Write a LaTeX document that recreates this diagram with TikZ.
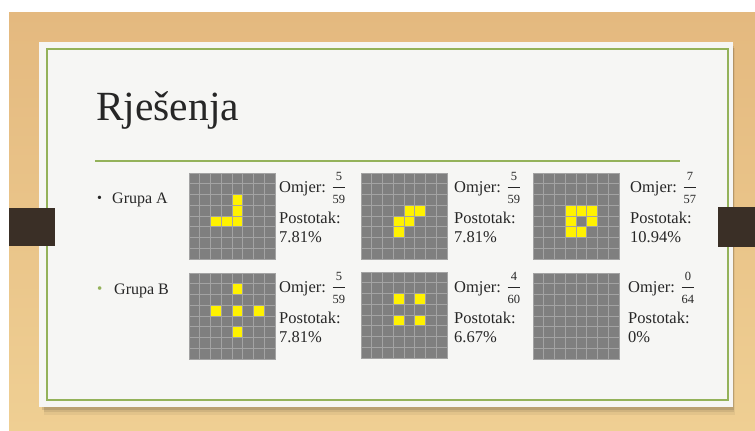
\documentclass[tikz,border=0pt]{standalone}
\usepackage{fontspec}
\setmainfont{Liberation Serif}
\definecolor{woodA}{HTML}{E4B97F}
\definecolor{woodB}{HTML}{EFCF93}
\definecolor{cardC}{HTML}{F6F6F4}
\definecolor{frameG}{HTML}{94B25A}
\definecolor{tabC}{HTML}{3A2F26}
\definecolor{cellG}{HTML}{7F7F7F}
\definecolor{lineG}{HTML}{A3A3A3}
\definecolor{txt}{HTML}{262626}
\tikzset{
  gridbox/.style={draw=lineG, line width=0.6pt, fill=cellG, minimum size=86pt, inner sep=0pt, outer sep=0pt},
  gridline/.style={draw=lineG, line width=0.6pt},
  lifecell/.style={fill=yellow},
  bodytext/.style={anchor=base west, inner sep=0pt, text=txt, font=\fontsize{16.5}{18}\selectfont},
}
\newcommand\frdig[1]{\hbox{\fontsize{12.5}{13}\selectfont #1}}
\newcommand\fr[2]{$\displaystyle{\frdig{#1}\over\frdig{#2}}$}
\newcommand\lifebox[2]{\node[gridbox] (#1) at (#2) {};}
\newcommand\lifecells[2]{%
  \begin{scope}[shift={(#1.north west)}]
    \foreach \c/\r in {#2} \fill[lifecell] (\c*10.75,\r*10.75) rectangle ++(10.75,10.75);
  \end{scope}}
\newcommand\lifelines[1]{%
  \begin{scope}[shift={(#1.north west)}]
    \foreach \i in {1,...,7} {
      \draw[gridline] (\i*10.75,0) -- (\i*10.75,86);
      \draw[gridline] (0,\i*10.75) -- (86,\i*10.75);
    }
  \end{scope}}
\begin{document}
\begin{tikzpicture}[x=1pt,y=-1pt]
\useasboundingbox (0,0) rectangle (755,431);
% background
\fill[white] (0,0) rectangle (755,431);
\shade[top color=woodA, bottom color=woodB] (9,12) rectangle (755,431);
% card shadow
\fill[black, opacity=0.05] (44,48) rectangle (735,415);
\fill[black, opacity=0.08] (44,48) rectangle (734,412);
\fill[black, opacity=0.10] (42,46) rectangle (733.5,409.5);
% card
\fill[cardC] (39,42) rectangle (733,407);
\draw[frameG, line width=1.2pt] (47,49) rectangle (728,400);
% tabs
\fill[tabC] (9,208) rectangle (55,246);
\fill[tabC] (718,207) rectangle (755,247);
% title
\node[anchor=base west, inner sep=0pt, text=txt, font=\fontsize{41.5}{44}\selectfont] (title) at (96,120) {Rješenja};
\coordinate (ruleL) at (95,161);
\coordinate (ruleR) at (680,161);
\draw[frameG, line width=1.2pt] (ruleL) -- (ruleR);
% bullets
\node[bodytext, font=\fontsize{14}{16}\selectfont] (bA) at (97,202) {•};
\node[bodytext, font=\fontsize{16}{18}\selectfont] (gA) at (112,203) {Grupa A};
\node[bodytext, text=frameG, font=\fontsize{15}{16}\selectfont] (bB) at (97,293) {•};
\node[bodytext, font=\fontsize{16}{18}\selectfont] (gB) at (114,294) {Grupa B};
% grids
\lifebox{g1}{232,216}
\lifebox{g2}{404,216}
\lifebox{g3}{576,216}
\lifebox{g4}{232,316}
\lifebox{g5}{404,315}
\lifebox{g6}{576,316}
\lifecells{g1}{4/2,4/3,2/4,3/4,4/4}
\lifecells{g2}{4/3,5/3,3/4,4/4,3/5}
\lifecells{g3}{3/3,4/3,5/3,3/4,5/4,3/5,4/5}
\lifecells{g4}{4/1,2/3,4/3,6/3,4/5}
\lifecells{g5}{3/2,5/2,3/4,5/4}
\lifelines{g1}\lifelines{g2}\lifelines{g3}
\lifelines{g4}\lifelines{g5}\lifelines{g6}
% texts row 1
\node[bodytext] (o1) at (279,192) {Omjer: \fr{5}{59}};
\node[bodytext] (p1) at (279,223) {Postotak:};
\node[bodytext] (v1) at (279,242) {7.81\%};
\node[bodytext] (o2) at (454,192) {Omjer: \fr{5}{59}};
\node[bodytext] (p2) at (454,223) {Postotak:};
\node[bodytext] (v2) at (454,242) {7.81\%};
\node[bodytext] (o3) at (630,192) {Omjer: \fr{7}{57}};
\node[bodytext] (p3) at (630,223) {Postotak:};
\node[bodytext] (v3) at (630,242) {10.94\%};
% texts row 2
\node[bodytext] (o4) at (279,292) {Omjer: \fr{5}{59}};
\node[bodytext] (p4) at (279,323) {Postotak:};
\node[bodytext] (v4) at (279,342) {7.81\%};
\node[bodytext] (o5) at (454,292) {Omjer: \fr{4}{60}};
\node[bodytext] (p5) at (454,323) {Postotak:};
\node[bodytext] (v5) at (454,342) {6.67\%};
\node[bodytext] (o6) at (628,292) {Omjer: \fr{0}{64}};
\node[bodytext] (p6) at (628,323) {Postotak:};
\node[bodytext] (v6) at (628,342) {0\%};
\end{tikzpicture}
\end{document}
